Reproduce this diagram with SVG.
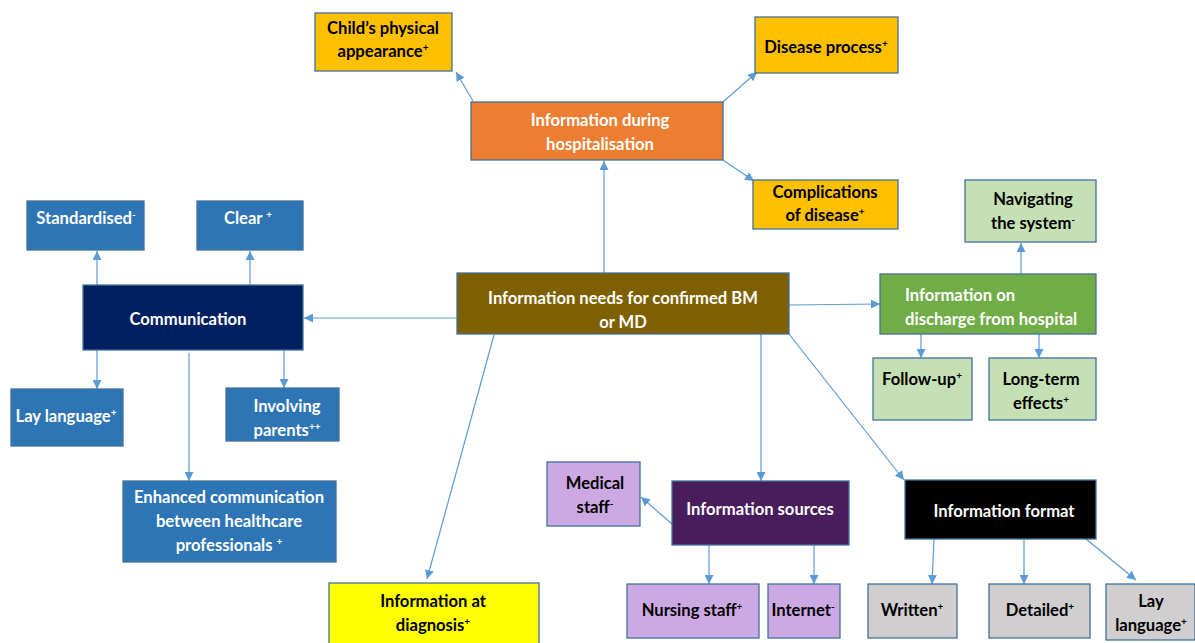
<svg xmlns="http://www.w3.org/2000/svg" width="1195" height="643" viewBox="0 0 1195 643">
<style>
rect{stroke:#41719C;stroke-width:1.3}
text{font-family:Lato,"Liberation Sans",sans-serif;font-weight:bold;font-size:16.6px;text-anchor:middle}
.w{fill:#fff}
.k{fill:#000}
.s{font-size:10px}
.c line{stroke:#5B9BD5;stroke-width:1.2;marker-end:url(#a)}
</style>
<defs>
<marker id="a" viewBox="0 0 10 10" refX="10" refY="5" markerWidth="9" markerHeight="9" markerUnits="userSpaceOnUse" orient="auto">
<path d="M0,0 L10,5 L0,10 z" fill="#5B9BD5"/>
</marker>
</defs>
<g class="c">
<line x1="604" y1="273" x2="604" y2="161"/>
<line x1="473" y1="101" x2="456" y2="72"/>
<line x1="723" y1="102" x2="757" y2="72"/>
<line x1="723" y1="160" x2="754" y2="181"/>
<line x1="457" y1="318" x2="304" y2="318"/>
<line x1="789" y1="305" x2="880" y2="304"/>
<line x1="1021" y1="274" x2="1021" y2="243"/>
<line x1="921" y1="334" x2="921" y2="358"/>
<line x1="1039" y1="334" x2="1039" y2="358"/>
<line x1="97" y1="285" x2="97" y2="251"/>
<line x1="250" y1="285" x2="250" y2="251"/>
<line x1="97" y1="350" x2="97" y2="389"/>
<line x1="284" y1="348" x2="284" y2="388"/>
<line x1="189" y1="353" x2="189" y2="481"/>
<line x1="494" y1="335" x2="427" y2="579"/>
<line x1="761" y1="334" x2="761" y2="481"/>
<line x1="789" y1="334" x2="904" y2="480"/>
<line x1="672" y1="524" x2="641" y2="497"/>
<line x1="709" y1="545" x2="709" y2="584"/>
<line x1="814" y1="545" x2="814" y2="584"/>
<line x1="934" y1="539" x2="932" y2="584"/>
<line x1="1024" y1="539" x2="1024" y2="584"/>
<line x1="1086" y1="539" x2="1136" y2="580"/>
</g>
<g id="child">
<rect x="315" y="13" width="137" height="58" fill="#FFC000"/>
<text class="k" x="383" y="34">Child’s physical</text>
<text class="k" x="383" y="57">appearance<tspan class="s" dy="-6">+</tspan></text>
</g>
<g id="disease">
<rect x="755" y="17" width="143" height="56" fill="#FFC000"/>
<text class="k" x="826" y="53">Disease process<tspan class="s" dy="-6">+</tspan></text>
</g>
<g id="hospital">
<rect x="471" y="102" width="252" height="58" fill="#ED7D31" stroke="#AE5A21"/>
<text class="w" x="600" y="126">Information during</text>
<text class="w" x="600" y="150">hospitalisation</text>
</g>
<g id="complications">
<rect x="753" y="180" width="145" height="49" fill="#FFC000"/>
<text class="k" x="825" y="198">Complications</text>
<text class="k" x="825" y="221">of disease<tspan class="s" dy="-6">+</tspan></text>
</g>
<g id="standardised">
<rect x="27" y="201" width="117" height="49" fill="#2E75B6"/>
<text class="w" x="86" y="224">Standardised<tspan class="s" dy="-6">-</tspan></text>
</g>
<g id="clear">
<rect x="197" y="201" width="106" height="49" fill="#2E75B6"/>
<text class="w" x="248" y="224">Clear <tspan class="s" dy="-6">+</tspan></text>
</g>
<g id="communication">
<rect x="83" y="285" width="220" height="65" fill="#002060"/>
<text class="w" x="188" y="325">Communication</text>
</g>
<g id="needs">
<rect x="457" y="273" width="332" height="61" fill="#7F6000"/>
<text class="w" x="623" y="304">Information needs for confirmed BM</text>
<text class="w" x="623" y="328">or MD</text>
</g>
<g id="discharge">
<rect x="880" y="274" width="216" height="60" fill="#70AD47" stroke="#507E32"/>
<text class="w" x="905" y="301" style="text-anchor:start">Information on</text>
<text class="w" x="905" y="325" style="text-anchor:start">discharge from hospital</text>
</g>
<g id="navigating">
<rect x="965" y="180" width="131" height="62" fill="#C5E0B4"/>
<text class="k" x="1033" y="205">Navigating</text>
<text class="k" x="1033" y="229">the system<tspan class="s" dy="-6">-</tspan></text>
</g>
<g id="followup">
<rect x="873" y="358" width="99" height="62" fill="#C5E0B4"/>
<text class="k" x="922" y="385">Follow-up<tspan class="s" dy="-6">+</tspan></text>
</g>
<g id="longterm">
<rect x="989" y="358" width="107" height="62" fill="#C5E0B4"/>
<text class="k" x="1041" y="385">Long-term</text>
<text class="k" x="1041" y="409">effects<tspan class="s" dy="-6">+</tspan></text>
</g>
<g id="laylanguage1">
<rect x="11" y="389" width="112" height="57" fill="#2E75B6"/>
<text class="w" x="66" y="422">Lay language<tspan class="s" dy="-6">+</tspan></text>
</g>
<g id="involving">
<rect x="226" y="388" width="113" height="53" fill="#2E75B6"/>
<text class="w" x="287" y="412">Involving</text>
<text class="w" x="287" y="436">parents<tspan class="s" dy="-6">++</tspan></text>
</g>
<g id="enhanced">
<rect x="123" y="481" width="213" height="81" fill="#2E75B6"/>
<text class="w" x="229" y="503">Enhanced communication</text>
<text class="w" x="229" y="527">between healthcare</text>
<text class="w" x="229" y="551">professionals <tspan class="s" dy="-6">+</tspan></text>
</g>
<g id="diagnosis">
<rect x="329" y="583" width="210" height="65" fill="#FFFF00"/>
<text class="k" x="433" y="607">Information at</text>
<text class="k" x="433" y="631">diagnosis<tspan class="s" dy="-6">+</tspan></text>
</g>
<g id="medical">
<rect x="547" y="462" width="93" height="64" fill="#CDA9E3"/>
<text class="k" x="595" y="489">Medical</text>
<text class="k" x="595" y="513">staff<tspan class="s" dy="-6">-</tspan></text>
</g>
<g id="sources">
<rect x="672" y="481" width="177" height="64" fill="#471D5C"/>
<text class="w" x="760" y="515">Information sources</text>
</g>
<g id="format">
<rect x="905" y="480" width="191" height="59" fill="#000000"/>
<text class="w" x="1004" y="517">Information format</text>
</g>
<g id="nursing">
<rect x="627" y="584" width="132" height="54" fill="#CDA9E3"/>
<text class="k" x="692" y="616">Nursing staff<tspan class="s" dy="-6">+</tspan></text>
</g>
<g id="internet">
<rect x="768" y="584" width="72" height="54" fill="#CDA9E3"/>
<text class="k" x="803" y="616">Internet<tspan class="s" dy="-6">-</tspan></text>
</g>
<g id="written">
<rect x="868" y="584" width="89" height="54" fill="#D0CECE"/>
<text class="k" x="912" y="616">Written<tspan class="s" dy="-6">+</tspan></text>
</g>
<g id="detailed">
<rect x="989" y="584" width="101" height="54" fill="#D0CECE"/>
<text class="k" x="1040" y="616">Detailed<tspan class="s" dy="-6">+</tspan></text>
</g>
<g id="laylanguage2">
<rect x="1106" y="584" width="89" height="56" fill="#D0CECE"/>
<text class="k" x="1151" y="607">Lay</text>
<text class="k" x="1151" y="631">language<tspan class="s" dy="-6">+</tspan></text>
</g>
</svg>
